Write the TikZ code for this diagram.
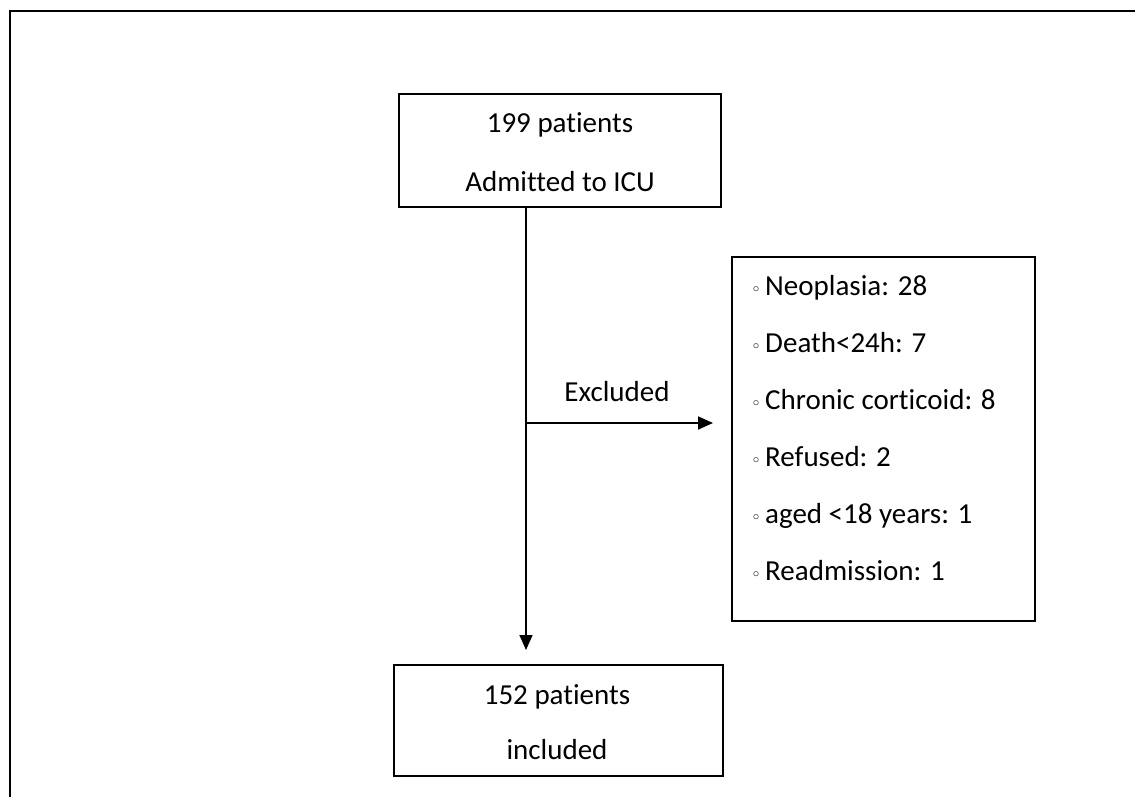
\documentclass[tikz,border=0pt]{standalone}
\usepackage{fontspec}
\setmainfont{Carlito}[Ligatures=NoCommon]
\newfontfamily\symfont{DejaVu Sans}
\usetikzlibrary{arrows.meta}
\newcommand{\wbul}{{\symfont\fontsize{17}{17}\selectfont ◦}\hspace{4pt}}
\begin{document}
\begin{tikzpicture}[x=1pt,y=-1pt,
  box/.style={draw, line width=2.2pt, inner sep=0pt, anchor=north west},
  lbl/.style={font=\fontsize{29}{57}\selectfont, inner sep=0pt},
  arr/.style={line width=1.7pt, -{Triangle[length=15pt,width=13pt]}},
  frame/.style={line width=2.4pt}]
\useasboundingbox (0,0) rectangle (1135,797);
% outer frame (only top and left sides visible)
\draw[frame] (10,797) -- (10,11) -- (1135,11);
% boxes
\node[box, minimum width=322pt, minimum height=113pt] (top) at (398,93) {};
\node[lbl, align=center, font=\fontsize{29}{59}\selectfont] (toptext) at (560,152.5) {199 patients\\Admitted to ICU};
\node[box, minimum width=303pt, minimum height=364pt] (excl) at (731,256) {};
\node[lbl, align=left, anchor=west] (excltext) at (751,428.5) {%
\wbul Neoplasia: 28\\
\wbul Death<24h: 7\\
\wbul Chronic corticoid: 8\\
\wbul Refused: 2\\
\wbul aged <18 years: 1\\
\wbul Readmission: 1};
\node[box, minimum width=329pt, minimum height=111pt] (bot) at (393,664) {};
\node[lbl, align=center, font=\fontsize{29}{55}\selectfont] (bottext) at (557,722.5) {152 patients\\included};
% connectors
\coordinate (spine) at (526,0);
\coordinate (branch) at (526,423);
\draw[arr, shorten >=14pt] (top.south -| spine) -- (bot.north -| spine);
\draw[arr, shorten >=18pt] (branch) -- (branch -| excl.west);
\node[lbl] (exlabel) at (617,392) {Excluded};
\end{tikzpicture}
\end{document}
